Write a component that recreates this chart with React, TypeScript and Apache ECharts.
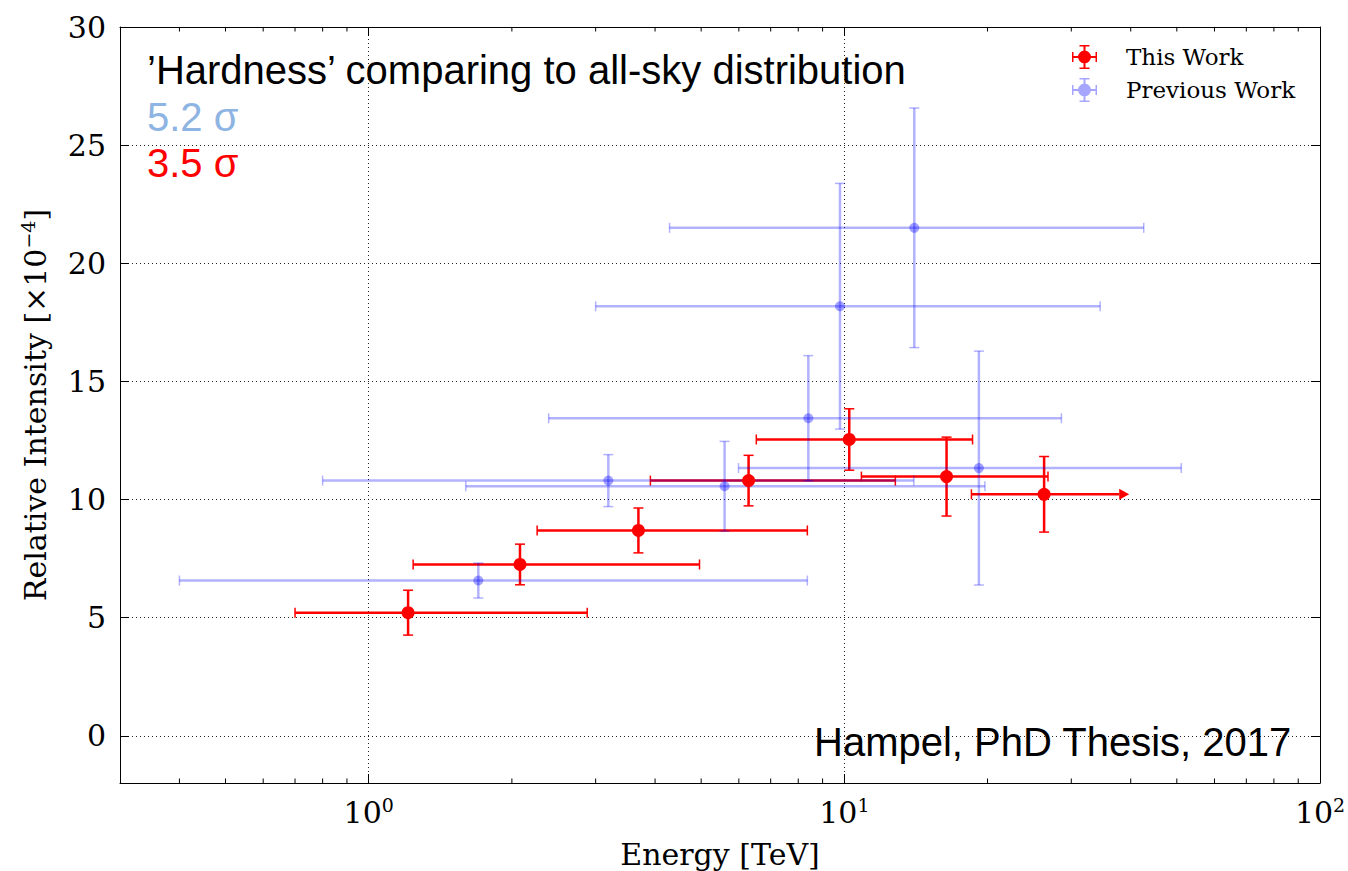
import React, { useEffect, useRef } from "react";
import * as echarts from "echarts";

// ---- Data ----
const thisWorkE = [1.21, 2.08, 3.69, 6.29, 10.24, 16.4, 26.3];
const thisWorkElo = [0.70, 1.24, 2.26, 3.91, 6.53, 10.86, 18.5];
const thisWorkEhi = [2.88, 4.96, 8.36, 12.8, 18.6, 26.8, 39.7];
const thisWorkI = [5.21, 7.25, 8.69, 10.8, 12.54, 10.97, 10.22];
const thisWorkIerr = [0.95, 0.86, 0.95, 1.07, 1.3, 1.67, 1.6];
const thisWorkLowerLimit = [0, 0, 0, 0, 0, 0, 1];

const prevWorkE = [1.70, 3.19, 5.6, 8.4, 9.79, 14.03, 19.18];
const prevWorkElo = [0.40, 0.80, 1.6, 2.39, 3.0, 4.29, 5.99];
const prevWorkEhi = [8.36, 14.0, 19.75, 28.6, 34.5, 42.6, 51.1];
const prevWorkI = [6.57, 10.8, 10.56, 13.44, 18.18, 21.5, 11.33];
const prevWorkIerr = [0.74, 1.1, 1.9, 2.65, 5.2, 5.07, 4.95];

const minorTickValues = [
  0.4, 0.5, 0.6, 0.7, 0.8, 0.9,
  2, 3, 4, 5, 6, 7, 8, 9,
  20, 30, 40, 50, 60, 70, 80, 90,
];

const xMin = 0.3;
const xMax = 100;
const yMin = -2;
const yMax = 30;

const SERIF = "DejaVu Serif, serif";
const SANS = "Liberation Sans, Arial, Helvetica, sans-serif";

const RED = "#ff0000";
const BLUE_BAR = "rgba(0,0,255,0.3)";
const BLUE_DOT = "rgba(0,0,255,0.45)";

function rows(E: number[], I: number[], lo: number[], hi: number[], err: number[], lim?: number[]) {
  return E.map((e, i) => [e, I[i], lo[i], hi[i], err[i], lim ? lim[i] : 0]);
}

function makeErrRender(color: string, lw: number, capLw: number, capHalf: number) {
  return (params: any, api: any) => {
    const x = api.value(0);
    const y = api.value(1);
    const xlo = api.value(2);
    const xhi = api.value(3);
    const yerr = api.value(4);
    const lim = api.value(5);
    const c = api.coord([x, y]);
    const pl = api.coord([xlo, y]);
    const pr = api.coord([xhi, y]);
    const pt = api.coord([x, y + yerr]);
    const pb = api.coord([x, y - yerr]);
    const head = 10;
    const children: any[] = [
      {
        type: "line",
        shape: { x1: pl[0], y1: c[1], x2: lim ? pr[0] - head : pr[0], y2: c[1] },
        style: { stroke: color, lineWidth: lw },
      },
      {
        type: "line",
        shape: { x1: c[0], y1: pt[1], x2: c[0], y2: pb[1] },
        style: { stroke: color, lineWidth: lw },
      },
      {
        type: "line",
        shape: { x1: pl[0], y1: c[1] - capHalf, x2: pl[0], y2: c[1] + capHalf },
        style: { stroke: color, lineWidth: capLw },
      },
      {
        type: "line",
        shape: { x1: c[0] - capHalf, y1: pt[1], x2: c[0] + capHalf, y2: pt[1] },
        style: { stroke: color, lineWidth: capLw },
      },
      {
        type: "line",
        shape: { x1: c[0] - capHalf, y1: pb[1], x2: c[0] + capHalf, y2: pb[1] },
        style: { stroke: color, lineWidth: capLw },
      },
    ];
    if (lim) {
      children.push({
        type: "polygon",
        shape: {
          points: [
            [pr[0] - head, c[1] - 5.5],
            [pr[0], c[1]],
            [pr[0] - head, c[1] + 5.5],
          ],
        },
        style: { fill: color },
      });
    } else {
      children.push({
        type: "line",
        shape: { x1: pr[0], y1: c[1] - capHalf, x2: pr[0], y2: c[1] + capHalf },
        style: { stroke: color, lineWidth: capLw },
      });
    }
    return { type: "group", children };
  };
}

const ICON =
  "path://M0,11h25v2h-25z M0,7h1.5v10h-1.5z M23.5,7h1.5v10h-1.5z M11.5,0h2v24h-2z M7.5,0h10v1.5h-10z M7.5,22.5h10v1.5h-10z M19,12a6.5,6.5 0 1,1 -13,0a6.5,6.5 0 1,1 13,0z";

export default function App() {
  const ref = useRef<HTMLDivElement>(null);

  useEffect(() => {
    if (!ref.current) return;
    const chart = echarts.init(ref.current, null, { renderer: "svg" });

    const axisLineStyle = { color: "#000", width: 1 };
    const gridLine = { show: true, lineStyle: { color: "#000", width: 1, type: [1, 3] as any, opacity: 0.85 } };

    const option: any = {
      animation: false,
      backgroundColor: "#ffffff",
      grid: { left: 120, right: 28, top: 27, bottom: 88, containLabel: false, outerBoundsMode: "none" },
      legend: {
        orient: "vertical",
        left: 1072,
        top: 45,
        padding: 0,
        itemWidth: 25,
        itemHeight: 24,
        itemGap: 9,
        textStyle: {
          fontFamily: SERIF,
          fontSize: 23,
          color: "#000",
          padding: [0, 0, 0, 24],
          lineHeight: 24,
        },
        data: [
          { name: "This Work", icon: ICON, itemStyle: { color: RED } },
          { name: "Previous Work", icon: ICON, itemStyle: { color: "rgba(0,0,255,0.35)" } },
        ],
      },
      xAxis: [
        {
          type: "log",
          logBase: 10,
          min: xMin,
          max: xMax,
          position: "bottom",
          axisLine: { show: true, onZero: false, lineStyle: axisLineStyle },
          axisTick: { show: true, inside: true, length: 9, lineStyle: { color: "#000", width: 1 } },
          axisLabel: {
            show: true,
            showMinLabel: false,
            margin: 12,
            color: "#000",
            formatter: (v: number) => "{a|10}{sup|" + Math.round(Math.log10(v)) + "}",
            rich: {
              a: { fontFamily: SERIF, fontSize: 30, color: "#000", verticalAlign: "bottom" },
              sup: { fontFamily: SERIF, fontSize: 19, color: "#000", verticalAlign: "bottom", padding: [0, 0, 13, 0] },
            },
          },
          splitLine: gridLine,
          name: "Energy [TeV]",
          nameLocation: "middle",
          nameGap: 56,
          nameTextStyle: { fontFamily: SERIF, fontSize: 30, color: "#000" },
        },
        {
          type: "log",
          logBase: 10,
          min: xMin,
          max: xMax,
          position: "top",
          axisLine: { show: true, onZero: false, lineStyle: axisLineStyle },
          axisTick: { show: true, inside: true, length: 9, lineStyle: { color: "#000", width: 1 } },
          axisLabel: { show: false },
          splitLine: { show: false },
        },
      ],
      yAxis: [
        {
          type: "value",
          min: yMin,
          max: yMax,
          position: "left",
          axisLine: { show: true, onZero: false, lineStyle: axisLineStyle },
          axisTick: { show: true, inside: true, length: 9, lineStyle: { color: "#000", width: 1 } },
          axisLabel: {
            show: true,
            showMinLabel: false,
            margin: 14,
            fontFamily: SERIF,
            fontSize: 30,
            color: "#000",
          },
          splitLine: gridLine,
          name: "{a|Relative Intensity [×10}{sup|−4}{a|]}",
          nameLocation: "middle",
          nameGap: 70,
          nameRotate: 90,
          nameTextStyle: {
            color: "#000",
            rich: {
              a: { fontFamily: SERIF, fontSize: 30, color: "#000", verticalAlign: "bottom" },
              sup: { fontFamily: SERIF, fontSize: 19, color: "#000", verticalAlign: "bottom", padding: [0, 0, 13, 0] },
            },
          },
        },
        {
          type: "value",
          min: yMin,
          max: yMax,
          position: "right",
          axisLine: { show: true, onZero: false, lineStyle: axisLineStyle },
          axisTick: { show: true, inside: true, length: 9, lineStyle: { color: "#000", width: 1 } },
          axisLabel: { show: false },
          splitLine: { show: false },
        },
      ],
      series: [
        {
          name: "minor ticks",
          type: "custom",
          silent: true,
          xAxisIndex: 0,
          yAxisIndex: 0,
          data: minorTickValues.map((v) => [v, 0]),
          renderItem: (params: any, api: any) => {
            const cs = params.coordSys;
            const px = api.coord([api.value(0), 0])[0];
            const top = cs.y;
            const bot = cs.y + cs.height;
            return {
              type: "group",
              children: [
                { type: "line", shape: { x1: px, y1: bot, x2: px, y2: bot - 4.5 }, style: { stroke: "#000", lineWidth: 1 } },
                { type: "line", shape: { x1: px, y1: top, x2: px, y2: top + 4.5 }, style: { stroke: "#000", lineWidth: 1 } },
              ],
            };
          },
          z: 1,
        },
        {
          name: "This Work",
          type: "custom",
          xAxisIndex: 0,
          yAxisIndex: 0,
          data: rows(thisWorkE, thisWorkI, thisWorkElo, thisWorkEhi, thisWorkIerr, thisWorkLowerLimit),
          renderItem: makeErrRender(RED, 2.5, 1.5, 5),
          itemStyle: { color: RED },
          z: 2,
        },
        {
          name: "Previous Work",
          type: "custom",
          xAxisIndex: 0,
          yAxisIndex: 0,
          data: rows(prevWorkE, prevWorkI, prevWorkElo, prevWorkEhi, prevWorkIerr),
          renderItem: makeErrRender(BLUE_BAR, 2.5, 1.5, 5),
          itemStyle: { color: BLUE_BAR },
          z: 3,
        },
        {
          name: "This Work",
          type: "scatter",
          xAxisIndex: 0,
          yAxisIndex: 0,
          symbol: "circle",
          symbolSize: 13,
          itemStyle: { color: RED, opacity: 1 },
          data: thisWorkE.map((e, i) => [e, thisWorkI[i]]),
          z: 4,
        },
        {
          name: "Previous Work",
          type: "scatter",
          xAxisIndex: 0,
          yAxisIndex: 0,
          symbol: "circle",
          symbolSize: 10,
          itemStyle: { color: BLUE_DOT },
          data: prevWorkE.map((e, i) => [e, prevWorkI[i]]),
          z: 5,
        },
      ],
      graphic: [
        {
          type: "text",
          left: 147,
          top: 50,
          z: 10,
          style: {
            text: "’Hardness’ comparing to all-sky distribution",
            fontFamily: SANS,
            fontSize: 40,
            fill: "#000",
          },
        },
        {
          type: "text",
          left: 147,
          top: 97,
          z: 10,
          style: { text: "5.2 σ", fontFamily: SANS, fontSize: 40, fill: "#8db4e2" },
        },
        {
          type: "text",
          left: 147,
          top: 143,
          z: 10,
          style: { text: "3.5 σ", fontFamily: SANS, fontSize: 40, fill: "#ff0000" },
        },
        {
          type: "text",
          right: 1348 - 1292,
          top: 722,
          z: 10,
          style: { text: "Hampel, PhD Thesis, 2017", fontFamily: SANS, fontSize: 40, fill: "#000" },
        },
      ],
    };

    chart.setOption(option);
    return () => chart.dispose();
  }, []);

  return (
    <div
      ref={ref}
      style={{ position: "absolute", left: 0, top: 0, width: 1348, height: 871, background: "#fff" }}
    />
  );
}
